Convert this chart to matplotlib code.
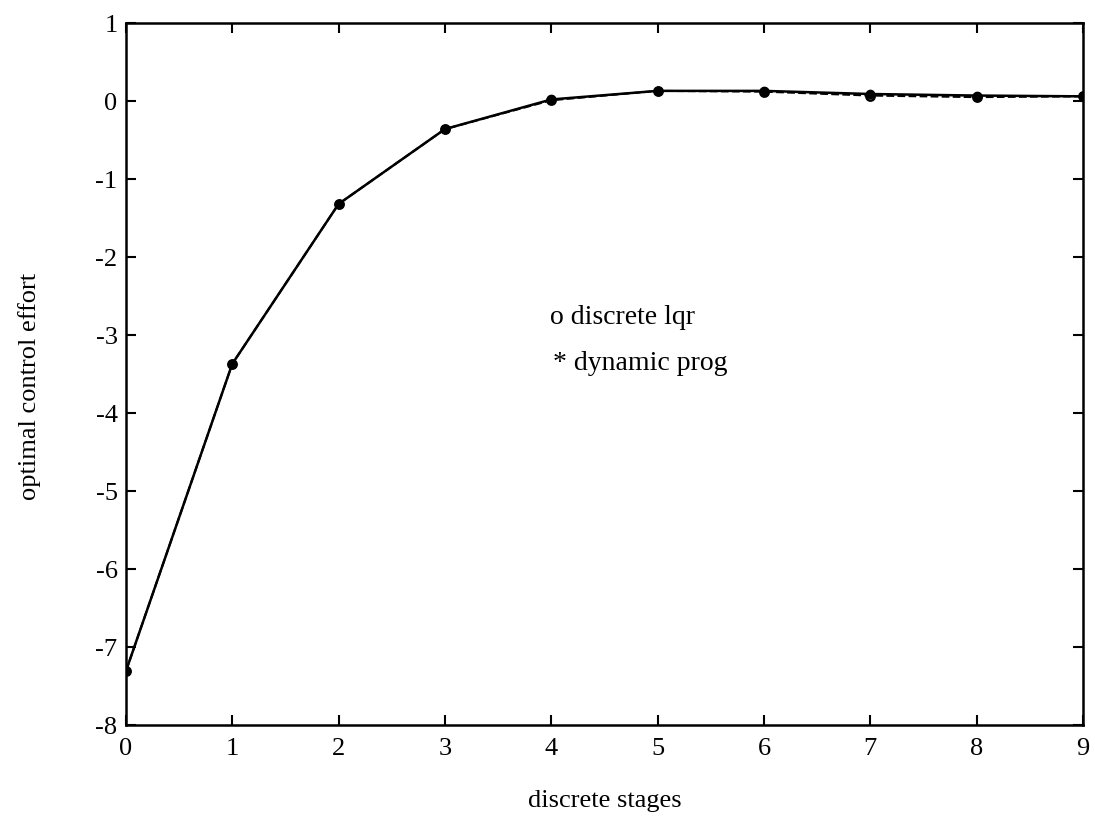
import numpy as np
import matplotlib.pyplot as plt

plt.rcParams['font.family'] = ['Liberation Serif', 'DejaVu Serif']
plt.rcParams['axes.unicode_minus'] = False

# discrete stages
stages = np.arange(0, 10)
# optimal control effort
u_lqr = [-7.31, -3.37, -1.32, -0.36, 0.01, 0.13, 0.12, 0.07, 0.05, 0.06]
u_dp = [-7.31, -3.37, -1.32, -0.36, 0.02, 0.13, 0.13, 0.09, 0.07, 0.06]

fig = plt.figure(figsize=(10.95, 8.22), dpi=100)
ax = fig.add_axes([0.115, 0.118, 0.874, 0.854])

# discrete lqr: dashed line, open circles
ax.plot(stages, u_lqr, 'k--', lw=1.5, marker='o', ms=6, mfc='white', mew=1.8)
# dynamic programming: solid line, filled dots
ax.plot(stages, u_dp, 'k-', lw=1.8, marker='o', ms=6, mfc='black')

ax.set_xlim(0, 9)
ax.set_ylim(-8, 1)
ax.set_xticks(range(0, 10))
ax.set_yticks(range(-8, 2))
ax.tick_params(direction='in', top=True, right=True, length=7, width=1.5,
               labelsize=19)
ax.tick_params(axis='x', pad=9)
ax.tick_params(axis='y', pad=6)
for s in ax.spines.values():
    s.set_linewidth(1.8)

ax.text(3.99, -2.77, 'o discrete lqr', fontsize=20, va='center')
ax.text(4.02, -3.36, '* dynamic prog', fontsize=20, va='center')

fig.text(0.552, 0.025, 'discrete stages', fontsize=19, ha='center', va='center')
fig.text(0.027, 0.53, 'optimal control effort', fontsize=19, ha='center',
         va='center', rotation=90)

fig.savefig('out.png', dpi=100)
